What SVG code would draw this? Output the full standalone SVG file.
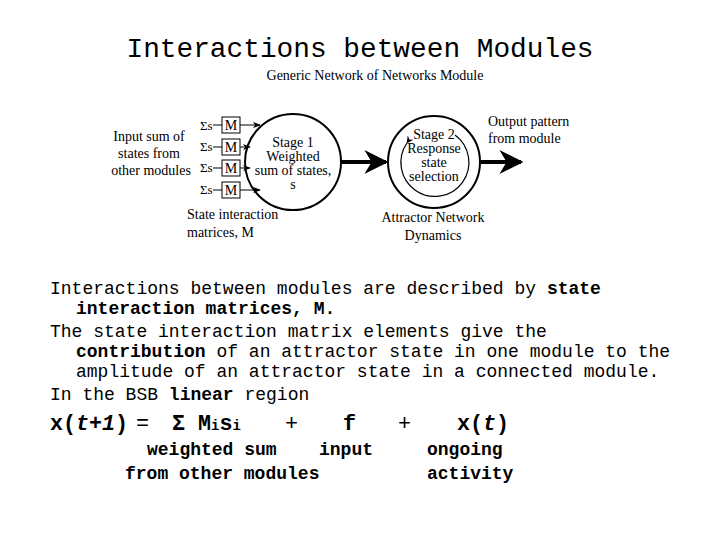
<svg xmlns="http://www.w3.org/2000/svg" width="720" height="540" viewBox="0 0 720 540">
<style>
.m{font-family:"Liberation Mono",monospace;fill:#000}
.s{font-family:"Liberation Serif",serif;fill:#000;font-size:14px}
.b{font-weight:bold}
.ln{stroke:#000;fill:none}
</style>
<defs>
<marker id="a" viewBox="0 0 10 10" refX="9" refY="5" markerWidth="8" markerHeight="8" orient="auto" markerUnits="userSpaceOnUse"><path d="M0,1 L10,5 L0,9 L3,5z" fill="#000"/></marker>
<marker id="A" viewBox="0 0 10 10" refX="9" refY="5" markerWidth="6" markerHeight="6" orient="auto"><path d="M0,0 L10,5 L0,10 L3,5z" fill="#000"/></marker>
</defs>
<rect width="720" height="540" fill="#fff"/>
<text class="m" x="360" y="57" font-size="27.8" text-anchor="middle">Interactions between Modules</text>
<text class="s" x="375" y="80" text-anchor="middle">Generic Network of Networks Module</text>
<g id="inputs">
<text class="s" x="149" y="141" text-anchor="middle">Input sum of</text>
<text class="s" x="149" y="158" text-anchor="middle">states from</text>
<text class="s" x="151" y="175" text-anchor="middle">other modules</text>
<g font-family="Liberation Serif" font-size="13">
<text x="200" y="130">Σs</text><text x="200" y="151">Σs</text><text x="200" y="172">Σs</text><text x="200" y="194">Σs</text>
</g>
<g class="ln"><rect x="222" y="117" width="18" height="16"/><rect x="222" y="139" width="18" height="16"/><rect x="222" y="160" width="18" height="16"/><rect x="222" y="182" width="18" height="16"/></g>
<g font-family="Liberation Serif" font-size="14" text-anchor="middle"><text x="231" y="130">M</text><text x="231" y="152">M</text><text x="231" y="173">M</text><text x="231" y="195">M</text></g>
<text class="s" x="187" y="219">State interaction</text>
<text class="s" x="187" y="237">matrices, M</text>
</g>
<g id="stage1">
<circle cx="293" cy="162" r="48" class="ln" stroke-width="2"/>
<g class="s" font-size="12.5" text-anchor="middle"><text x="293" y="147">Stage 1</text><text x="293" y="161">Weighted</text><text x="293" y="175">sum of states,</text><text x="293" y="189">s</text></g>
</g>
<g id="stage2">
<circle cx="434" cy="162" r="46" class="ln" stroke-width="2"/>
<path d="M407,143 A34,34 0 1,0 455,135" class="ln" stroke-width="1.2" marker-start="url(#A)"/>
<g class="s" font-size="11.5" text-anchor="middle"><text x="434" y="139">Stage 2</text><text x="434" y="153">Response</text><text x="434" y="167">state</text><text x="434" y="181">selection</text></g>
<text class="s" x="433" y="222" text-anchor="middle">Attractor Network</text>
<text class="s" x="433" y="240" text-anchor="middle">Dynamics</text>
</g>
<g id="output">
<text class="s" x="488" y="126">Output pattern</text>
<text class="s" x="488" y="143">from module</text>
</g>
<g id="connectors" class="ln">
<line x1="213" y1="125" x2="222" y2="125"/><line x1="213" y1="147" x2="222" y2="147"/><line x1="213" y1="168" x2="222" y2="168"/><line x1="213" y1="190" x2="222" y2="190"/>
<line x1="240" y1="125" x2="260" y2="125" marker-end="url(#a)"/>
<line x1="240" y1="147" x2="250" y2="147" marker-end="url(#a)"/>
<line x1="240" y1="168" x2="250" y2="168" marker-end="url(#a)"/>
<line x1="240" y1="190" x2="260" y2="190" marker-end="url(#a)"/>
<line x1="341" y1="162" x2="386" y2="162" stroke-width="4" marker-end="url(#A)"/>
<line x1="481" y1="162" x2="521" y2="162" stroke-width="4" marker-end="url(#A)"/>
</g>
<g class="m" font-size="18">
<text x="50" y="294">Interactions between modules are described by <tspan class="b">state</tspan></text>
<text x="76" y="314" class="b">interaction matrices, M.</text>
<text x="50" y="337">The state interaction matrix elements give the</text>
<text x="76" y="357"><tspan class="b">contribution</tspan> of an attractor state in one module to the</text>
<text x="76" y="377">amplitude of an attractor state in a connected module.</text>
<text x="50" y="400">In the BSB <tspan class="b">linear</tspan> region</text>
</g>
<g class="m" font-size="21.7">
<text x="50" y="430" class="b">x(<tspan font-style="italic">t+1</tspan>)</text>
<text x="136" y="430">=</text>
<text x="172" y="430" class="b">Σ M<tspan font-size="14">i</tspan>s<tspan font-size="14">i</tspan></text>
<text x="285" y="430">+</text>
<text x="343" y="430" class="b">f</text>
<text x="398" y="430">+</text>
<text x="457" y="430" class="b">x(<tspan font-style="italic">t</tspan>)</text>
</g>
<g class="m b" font-size="18">
<text x="147" y="455">weighted sum</text>
<text x="319" y="455">input</text>
<text x="427" y="455">ongoing</text>
<text x="125" y="479">from other modules</text>
<text x="427" y="479">activity</text>
</g>
</svg>
